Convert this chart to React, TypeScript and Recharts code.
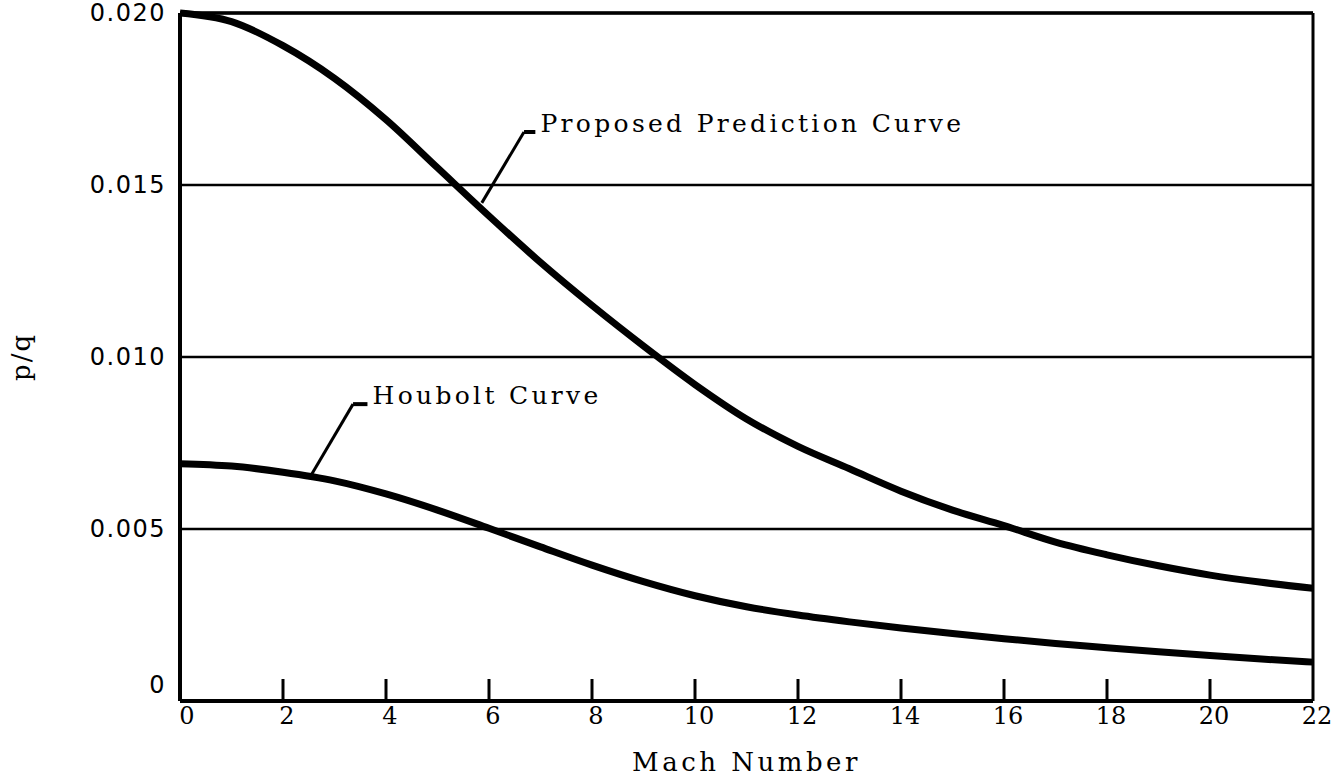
import { LineChart, Line, XAxis, YAxis, CartesianGrid, ReferenceLine, ReferenceDot } from "recharts";

// Mach number stations
const mach = [0, 1, 2, 3, 4, 5, 6, 7, 8, 9, 10, 11, 12, 13, 14, 15, 16, 17, 18, 19, 20, 21, 22];

// p/q
const proposed = [
  0.02, 0.01975, 0.01905, 0.0181, 0.0169, 0.0155, 0.0141, 0.01275, 0.0115, 0.01032, 0.0092, 0.0082,
  0.0074, 0.00675, 0.0061, 0.00555, 0.0051, 0.00462, 0.00425, 0.00393, 0.00366, 0.00345, 0.00328,
];
const houbolt = [
  0.0069, 0.00683, 0.00665, 0.0064, 0.00602, 0.00555, 0.00502, 0.00448, 0.00395, 0.00347, 0.00306, 0.00274,
  0.0025, 0.0023, 0.00212, 0.00196, 0.00181, 0.00167, 0.00155, 0.00143, 0.00132, 0.00122, 0.00113,
];

const xTicks = [0, 2, 4, 6, 8, 10, 12, 14, 16, 18, 20, 22];
const yTicks = [0, 0.005, 0.01, 0.015, 0.02];

// leader lines: curve point -> elbow -> end of short flag, then label text
const proposedLeader = [
  { x: 5.86, y: 0.01448 },
  { x: 6.68, y: 0.01654 },
  { x: 6.9, y: 0.01654 },
];
const proposedText = { x: 7.0, y: 0.01654, text: "Proposed Prediction Curve" };

const houboltLeader = [
  { x: 2.56, y: 0.0066 },
  { x: 3.36, y: 0.00863 },
  { x: 3.64, y: 0.00863 },
];
const houboltText = { x: 3.74, y: 0.00863, text: "Houbolt Curve" };

const data = mach.map((m, i) => ({ mach: m, proposed: proposed[i], houbolt: houbolt[i] }));

const serif = "'DejaVu Serif', serif";
const sans = "'DejaVu Sans', sans-serif";

const MachTick = (props: any) => {
  const { x, y, payload } = props;
  const v = payload.value;
  return (
    <g>
      {v > 0 && v < 22 && <line x1={x} x2={x} y1={y} y2={y - 22} stroke="#000" strokeWidth={3} />}
      <text x={v === 0 ? x + 7 : x + 4} y={y + 23} textAnchor="middle" fontFamily={serif} fontSize={24} fill="#000">
        {v}
      </text>
    </g>
  );
};

const PqTick = (props: any) => {
  const { x, y, payload } = props;
  const v = payload.value;
  return (
    <text
      x={x}
      y={v === 0 ? y - 16 : y}
      dy={8}
      textAnchor="end"
      fontFamily={sans}
      fontSize={24}
      letterSpacing={1.5}
      fill="#000"
    >
      {v === 0 ? "0" : v.toFixed(3)}
    </text>
  );
};

const flagLabel = (text: string) => (props: any) => {
  const { viewBox } = props;
  const cx = viewBox.x + viewBox.width / 2;
  const cy = viewBox.y + viewBox.height / 2;
  return (
    <text x={cx} y={cy} fontFamily={serif} fontSize={25} letterSpacing={3.3} fill="#000">
      {text}
    </text>
  );
};

const App = () => {
  return (
    <div style={{ position: "absolute", left: 0, top: 0, background: "#fff" }}>
      <LineChart width={1338} height={780} data={data} margin={{ top: 13, right: 25, left: 0, bottom: 0 }}>
        <CartesianGrid vertical={false} stroke="#000" strokeWidth={2.5} />
        <XAxis
          dataKey="mach"
          type="number"
          domain={[0, 22]}
          ticks={xTicks}
          height={79}
          tickSize={0}
          tickMargin={0}
          tickLine={false}
          axisLine={{ stroke: "#000", strokeWidth: 4 }}
          tick={<MachTick />}
          label={{
            value: "Mach Number",
            position: "insideBottom",
            offset: 9,
            fill: "#000",
            fontFamily: serif,
            fontSize: 26,
            letterSpacing: 3.5,
          }}
        />
        <YAxis
          type="number"
          domain={[0, 0.02]}
          ticks={yTicks}
          width={180}
          tickSize={0}
          tickMargin={14}
          tickLine={false}
          axisLine={{ stroke: "#000", strokeWidth: 4 }}
          tick={<PqTick />}
          label={{
            content: (p: any) => {
              const vb = p.viewBox;
              const lx = vb.x + 21;
              const ly = vb.y + vb.height / 2;
              return (
                <text
                  x={lx}
                  y={ly}
                  transform={`rotate(-90 ${lx} ${ly})`}
                  textAnchor="middle"
                  dominantBaseline="central"
                  fontFamily={serif}
                  fontSize={26}
                  letterSpacing={2}
                  fill="#000"
                >
                  p/q
                </text>
              );
            },
          }}
        />
        <ReferenceLine x={22} stroke="#000" strokeWidth={3} />
        <ReferenceLine y={0.02} stroke="#000" strokeWidth={3.5} />

        <Line type="monotone" dataKey="proposed" stroke="#000" strokeWidth={7} dot={false} isAnimationActive={false} />
        <Line type="monotone" dataKey="houbolt" stroke="#000" strokeWidth={7} dot={false} isAnimationActive={false} />

        <ReferenceLine segment={[proposedLeader[0], proposedLeader[1]]} stroke="#000" strokeWidth={3} />
        <ReferenceLine segment={[proposedLeader[1], proposedLeader[2]]} stroke="#000" strokeWidth={4} />
        <ReferenceLine segment={[houboltLeader[0], houboltLeader[1]]} stroke="#000" strokeWidth={3} />
        <ReferenceLine segment={[houboltLeader[1], houboltLeader[2]]} stroke="#000" strokeWidth={4} />

        <ReferenceDot
          x={proposedText.x}
          y={proposedText.y}
          r={1}
          fill="none"
          stroke="none"
          label={{ content: flagLabel(proposedText.text) }}
        />
        <ReferenceDot
          x={houboltText.x}
          y={houboltText.y}
          r={1}
          fill="none"
          stroke="none"
          label={{ content: flagLabel(houboltText.text) }}
        />
      </LineChart>
    </div>
  );
};

export default App;
